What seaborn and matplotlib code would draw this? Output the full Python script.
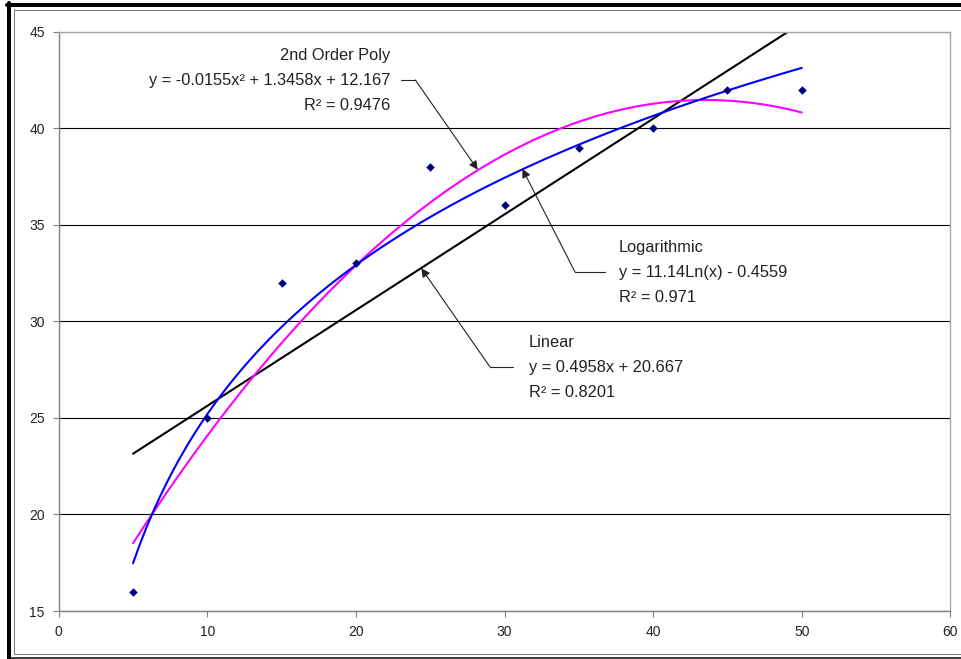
import matplotlib
matplotlib.use('Agg')
import matplotlib.pyplot as plt
import numpy as np
import pandas as pd
import seaborn as sns
from matplotlib.lines import Line2D

# data points
x_vals = [5, 10, 15, 20, 25, 30, 35, 40, 45, 50]
y_vals = [16, 25, 32, 33, 38, 36, 39, 40, 42, 42]

poly_label = ['2nd Order Poly', 'y = -0.0155x² + 1.3458x + 12.167', 'R² = 0.9476']
log_label = ['Logarithmic', 'y = 11.14Ln(x) - 0.4559', 'R² = 0.971']
lin_label = ['Linear', 'y = 0.4958x + 20.667', 'R² = 0.8201']

df = pd.DataFrame({'x': x_vals, 'y': y_vals})

sns.set_style("white")
plt.rcParams['font.family'] = ['Liberation Sans', 'DejaVu Sans']

fig = plt.figure(figsize=(9.61, 6.59), dpi=100)
ax = fig.add_axes([0.0611, 0.0728, 0.9278, 0.8791])

ax.set_xlim(0, 60)
ax.set_ylim(15, 45)

line_kw = dict(ci=None, scatter=False, truncate=True)
sns.regplot(data=df, x='x', y='y', order=1, ax=ax, line_kws=dict(color='black', lw=1.5), **line_kw)
sns.regplot(data=df, x='x', y='y', order=2, ax=ax, line_kws=dict(color='#FF00FF', lw=1.5), **line_kw)
sns.regplot(data=df, x='x', y='y', logx=True, ax=ax, line_kws=dict(color='#0000FF', lw=1.5), **line_kw)
sns.scatterplot(data=df, x='x', y='y', marker='D', s=16, color='#000080', edgecolor='#000080',
                ax=ax, zorder=5)

ax.set_xticks(np.arange(0, 61, 10))
ax.set_yticks(np.arange(15, 46, 5))
ax.yaxis.grid(True, color='black', lw=0.8)
ax.set_xlabel('')
ax.set_ylabel('')
ax.tick_params(axis='both', direction='out', length=4, width=0.8, color='#808080',
               labelsize=10, labelcolor='#222222', pad=6, left=True, bottom=True)
for side in ['left', 'bottom']:
    ax.spines[side].set_color('#808080')
    ax.spines[side].set_linewidth(1.0)
for side in ['top', 'right']:
    ax.spines[side].set_color('#a8a8a8')
    ax.spines[side].set_linewidth(1.0)

txt = dict(fontsize=11.8, color='#222222', va='center')
arrow = dict(arrowstyle='-|>', color='#222222', lw=0.8, mutation_scale=13, shrinkA=0, shrinkB=0)

# labels with elbow arrows
for i, s in enumerate(poly_label):
    ax.text(22.3, 43.79 - 1.295 * i, s, ha='right', **txt)
ax.add_line(Line2D([23.0, 24.0], [42.5, 42.5], color='#222222', lw=0.8))
ax.annotate('', xy=(28.2, 37.85), xytext=(24.0, 42.5), arrowprops=arrow)

for i, s in enumerate(log_label):
    ax.text(37.7, 33.85 - 1.295 * i, s, ha='left', **txt)
ax.add_line(Line2D([36.76, 34.74], [32.56, 32.56], color='#222222', lw=0.8))
ax.annotate('', xy=(31.2, 37.9), xytext=(34.74, 32.56), arrowprops=arrow)

for i, s in enumerate(lin_label):
    ax.text(31.65, 28.93 - 1.295 * i, s, ha='left', **txt)
ax.add_line(Line2D([30.57, 29.02], [27.64, 27.64], color='#222222', lw=0.8))
ax.annotate('', xy=(24.4, 32.75), xytext=(29.02, 27.64), arrowprops=arrow)

# outer frame of the chart object
W, H = 961.0, 659.0
def px(xp, yp):
    return [v / W for v in xp], [1 - v / H for v in yp]

for xs, ys, c, w in [
    ([7, 961], [4.5, 4.5], 'black', 4.0),
    ([9, 9], [3, 659], 'black', 4.0),
    ([14, 961], [9.5, 9.5], '#808080', 1.0),
    ([14, 14], [9, 653.5], '#808080', 1.0),
    ([14, 961], [653.5, 653.5], '#808080', 1.0),
    ([9, 961], [658, 658], 'black', 1.5),
]:
    fx, fy = px(xs, ys)
    fig.add_artist(Line2D(fx, fy, color=c, lw=w * 0.72, transform=fig.transFigure))

fig.savefig('out.png', dpi=100)
